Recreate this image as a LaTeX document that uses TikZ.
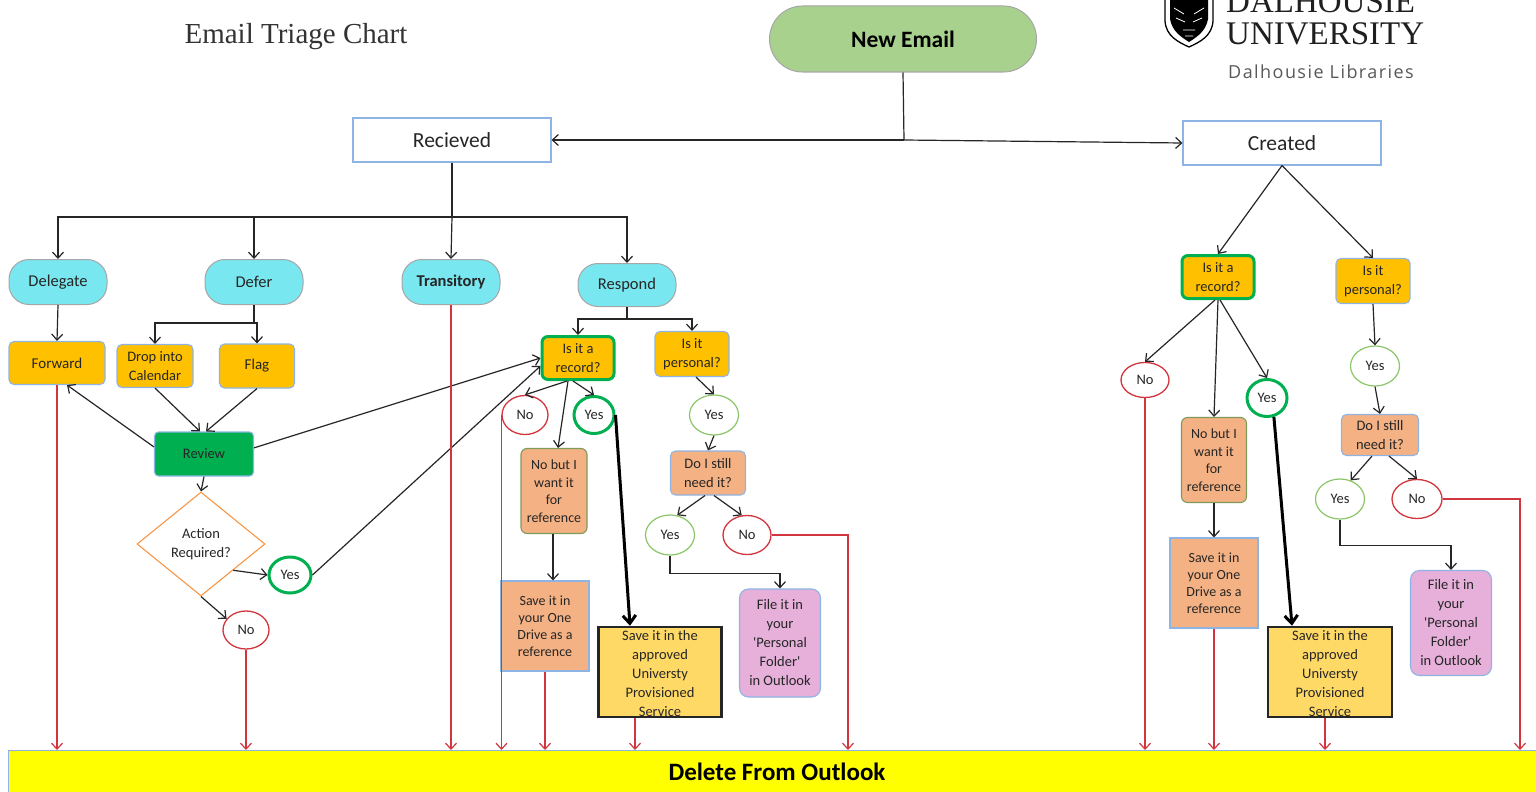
\documentclass[tikz,border=0pt]{standalone}
\usepackage{fontspec}
\setmainfont{Carlito}
\newfontfamily\titlefont{Liberation Serif}
\newfontfamily\logosans[LetterSpace=8]{Open Sans}
\usetikzlibrary{arrows.meta,shapes.geometric}
\definecolor{txt}{HTML}{262626}
\definecolor{lineC}{HTML}{262626}
\definecolor{redC}{HTML}{D2353D}
\definecolor{cyanF}{HTML}{79E7EF}
\definecolor{goldF}{HTML}{FFC000}
\definecolor{salmonF}{HTML}{F4B183}
\definecolor{paleF}{HTML}{FFD966}
\definecolor{pinkF}{HTML}{E6B0DA}
\definecolor{greenF}{HTML}{00B050}
\definecolor{newF}{HTML}{A9D18E}
\definecolor{blueB}{HTML}{8EB4E3}
\definecolor{grayB}{HTML}{A6A6A6}
\definecolor{lgreenB}{HTML}{8CC66A}
\definecolor{olivB}{HTML}{7F9A5A}
\definecolor{orangeB}{HTML}{F79646}
\definecolor{yellowF}{HTML}{FFFF00}
\newcommand\myfs[2]{\fontsize{#1}{#2}\selectfont}
\newcommand\sq{\textquotesingle}
\begin{document}
\begin{tikzpicture}[x=1pt,y=-1pt,
  every node/.style={text=txt, inner sep=0pt, align=center},
  base/.style={draw=blueB, line width=1.1pt},
  pill/.style={draw=grayB, line width=1pt, fill=cyanF, minimum width=98pt, minimum height=45pt, rounded corners=20pt, font=\myfs{16.5}{19}},
  gbox/.style={base, fill=goldF, rounded corners=5pt, font=\myfs{14.5}{19}},
  recbox/.style={draw=greenF, line width=3pt, fill=goldF, rounded corners=6pt, minimum width=72pt, minimum height=43pt, font=\myfs{14.5}{19}},
  perbox/.style={base, fill=goldF, rounded corners=5pt, minimum width=74pt, minimum height=45pt, font=\myfs{14.5}{19}},
  ylite/.style={ellipse, draw=lgreenB, line width=1.2pt, fill=white, minimum width=49pt, minimum height=40pt, font=\myfs{14.5}{17}},
  ythick/.style={ellipse, draw=greenF, line width=3pt, fill=white, minimum width=40pt, minimum height=37pt, font=\myfs{14.5}{17}},
  nell/.style={ellipse, draw=redC, line width=1.3pt, fill=white, minimum width=48pt, minimum height=39pt, font=\myfs{14.5}{17}},
  nbbox/.style={draw=olivB, line width=1.1pt, fill=salmonF, rounded corners=6pt, minimum width=66pt, minimum height=85pt, font=\myfs{14}{17.5}},
  odbox/.style={base, fill=salmonF, minimum width=88pt, minimum height=90pt, font=\myfs{14}{17}},
  dnbox/.style={base, fill=salmonF, rounded corners=5pt, minimum width=75pt, minimum height=44pt, font=\myfs{14.5}{19}},
  apbox/.style={draw=black!85, line width=2.5pt, fill=paleF, minimum width=123pt, minimum height=90pt},
  aptext/.style={font=\myfs{14.5}{19}},
  filebox/.style={base, fill=pinkF, rounded corners=9pt, minimum width=81pt, minimum height=108pt, font=\myfs{14.5}{19}},
  ln/.style={draw=lineC, line width=1.2pt},
  arr/.style={draw=lineC, line width=1.2pt, -{Straight Barb[length=6pt,width=11pt]}},
  redarr/.style={draw=redC, line width=1.2pt, -{Straight Barb[length=6pt,width=11pt]}},
  bigarr/.style={draw=black, line width=3pt, -{Straight Barb[length=8pt,width=13pt]}}
]
\useasboundingbox (0,0) rectangle (1536,792);
\fill[white] (0,0) rectangle (1536,792);

% title and logo
\node[font=\titlefont\myfs{29}{31}, text=black!80] (title) at (296,37) {Email Triage Chart};
\draw[line width=1.3pt, black] (1165,-2) -- (1165,21) .. controls (1166,36) and (1178,42) .. (1189,47) .. controls (1200,42) and (1212,36) .. (1213,21) -- (1213,-2);
\fill[black] (1170,-2) -- (1170,19) .. controls (1172,31) and (1181,37) .. (1189,42) .. controls (1197,37) and (1206,31) .. (1208,19) -- (1208,-2) -- cycle;
\draw[white, line width=0.8pt] (1174,8) -- (1184,14) (1204,8) -- (1194,14) (1176,18) -- (1185,22) (1202,18) -- (1193,22) (1183,30) -- (1195,30) (1185,36) -- (1193,36);
\node[font=\titlefont\myfs{33}{35}, text=black!88, anchor=base west] (dal) at (1226,13) {DALHOUSIE};
\node[font=\titlefont\myfs{33}{35}, text=black!88, anchor=base west] (uni) at (1226,45) {UNIVERSITY};
\node[font=\logosans\myfs{18}{20}, text=black!65, anchor=base west] (lib) at (1228,78) {Dalhousie Libraries};

% top level
\node[draw=grayB, line width=1pt, fill=newF, minimum width=267pt, minimum height=66pt, rounded corners=33pt, font=\bfseries\myfs{23.5}{26}, text=black] (new) at (903,39) {New Email};
\node[base, fill=white, minimum width=198pt, minimum height=44pt, font=\myfs{21.5}{24}] (rec) at (452,140) {Recieved};
\node[base, fill=white, minimum width=198pt, minimum height=44pt, font=\myfs{21.5}{24}] (cre) at (1282,143) {Created};
\coordinate (j1) at (904,140);
\draw[ln] (new.south) -- (j1);
\draw[arr] (j1) -- (rec.east);
\draw[arr] (j1) -- (cre.west);

% received branch
\node[pill] (deleg) at (58,282) {Delegate};
\node[pill] (defer) at (254,282) {Defer};
\node[pill, font=\bfseries\myfs{16.5}{19}] (trans) at (451,282) {Transitory};
\node[pill, minimum height=43pt] (resp) at (627,285) {Respond};
\coordinate (b1) at (452,217);
\draw[ln] (rec.south) -- (b1);
\draw[arr] (b1) -| (deleg.north);
\draw[arr] (b1) -| (defer.north);
\draw[arr] (b1) -- (trans.north);
\draw[arr] (b1) -| (resp.north);

\node[gbox, minimum width=96pt, minimum height=43pt, font=\myfs{15}{19}] (fwd) at (57,363) {Forward};
\node[gbox, minimum width=76pt, minimum height=43pt] (drop) at (155,366) {Drop into\\Calendar};
\node[gbox, minimum width=75pt, minimum height=44pt, font=\myfs{15}{19}] (flag) at (257,366) {Flag};
\draw[arr] (deleg.south) -- (fwd.north);
\coordinate (d1) at (254,323);
\draw[ln] (defer.south) -- (d1);
\draw[arr] (d1) -| (drop.north);
\draw[arr] (d1) -| (flag.north);

\node[base, fill=greenF, rounded corners=4pt, minimum width=99pt, minimum height=44pt, font=\myfs{14.5}{19}] (rev) at (204,454) {Review};
\draw[arr] (drop.south) -- ([xshift=-4pt]rev.north);
\draw[arr] (flag.south) -- ([xshift=2pt]rev.north);
\draw[arr] (rev.172) -- ([xshift=10pt]fwd.south);

\node[diamond, draw=orangeB, line width=1.1pt, fill=white, minimum width=128pt, minimum height=104pt, font=\myfs{14.5}{19}] (act) at (201,544) {Action\\Required?};
\draw[arr] (rev.south) -- (act.north);
\node[ythick, minimum width=42pt, minimum height=36pt] (yes1) at (290,575) {Yes};
\node[nell, minimum width=46pt, minimum height=38pt] (no1) at (246,630) {No};
\draw[arr] (act.south east) -- (yes1.west);
\draw[arr] (act.south) -- (no1.150);

% respond branch
\node[recbox] (rec1) at (578,358) {Is it a\\record?};
\node[perbox] (per1) at (692,354) {Is it\\personal?};
\coordinate (r1) at (627,319);
\draw[ln] (resp.south) -- (r1);
\draw[arr] (r1) -| (rec1.north);
\draw[arr] (r1) -| (per1.north);
\draw[arr] (rev.7) -- (rec1.180);
\draw[arr] (yes1.east) -- (rec1.192);

\node[nell, minimum width=46pt] (no2) at (525,415) {No};
\node[ythick] (yes2) at (594,415) {Yes};
\node[nbbox] (nb1) at (554,491) {No but I\\want it\\for\\reference};
\draw[arr] ([xshift=-11pt]rec1.south) -- (no2.north);
\draw[arr] ([xshift=-5pt]rec1.south) -- (yes2.north);
\draw[arr] ([xshift=-10pt]rec1.south) -- ([xshift=4pt]nb1.north);

\node[odbox] (od1) at (545,626) {Save it in\\your One\\Drive as a\\reference};
\draw[arr] ([xshift=-1pt]nb1.south) -- ([xshift=-1pt]nb1.south |- od1.north);
\node[apbox] (ap1) at (660,672) {};
\node[aptext] (ap1t) at (660,674) {Save it in the\\approved\\Universty\\Provisioned\\Service};
\draw[bigarr] (yes2.east) -- ([xshift=-30pt]ap1.north);

\node[ylite] (yes3) at (714,415) {Yes};
\node[dnbox] (dn1) at (708,473) {Do I still\\need it?};
\node[ylite] (yes4) at (670,535) {Yes};
\node[nell] (no4) at (747,535) {No};
\node[filebox] (file1) at (780,643) {File it in\\your\\\sq Personal\\Folder\sq\\in Outlook};
\draw[arr] ([xshift=4pt]per1.south) -- (yes3.north);
\draw[arr] (yes3.south) -- (dn1.north);
\draw[arr] ([xshift=-3pt]dn1.south) -- (yes4.70);
\draw[arr] ([xshift=6pt]dn1.south) -- (no4.105);
\draw[arr] (yes4.south) -- ++(0,18) -| (file1.north);

% created branch
\node[recbox] (rec2) at (1218,277) {Is it a\\record?};
\node[perbox] (per2) at (1373,281) {Is it\\personal?};
\draw[arr] (cre.south) -- (rec2.north);
\draw[arr] (cre.south) -- (per2.north);
\node[nell, minimum height=35pt] (no5) at (1145,380) {No};
\node[nbbox, minimum width=65pt] (nb2) at (1214,460) {No but I\\want it\\for\\reference};
\node[ythick] (yes5) at (1267,398) {Yes};
\draw[arr] ([xshift=-3pt]rec2.south) -- (no5.north);
\draw[arr] (rec2.south) -- (nb2.north);
\draw[arr] ([xshift=2pt]rec2.south) -- (yes5.north);
\node[odbox] (od2) at (1214,583) {Save it in\\your One\\Drive as a\\reference};
\draw[arr] (nb2.south) -- (od2.north);
\node[apbox, minimum width=124pt] (ap2) at (1330,672) {};
\node[aptext] (ap2t) at (1330,674) {Save it in the\\approved\\Universty\\Provisioned\\Service};
\draw[bigarr] (yes5.-70) -- ([xshift=-38pt]ap2.north);

\node[ylite] (yes6) at (1375,366) {Yes};
\node[dnbox, minimum width=77pt, minimum height=41pt] (dn2) at (1380,435) {Do I still\\need it?};
\node[ylite] (yes7) at (1340,499) {Yes};
\node[nell, minimum width=50pt] (no7) at (1417,499) {No};
\node[filebox, minimum height=105pt] (file2) at (1451,623) {File it in\\your\\\sq Personal\\Folder\sq\\in Outlook};
\draw[arr] (per2.south) -- (yes6.north);
\draw[arr] (yes6.south) -- (dn2.north);
\draw[arr] ([xshift=-8pt]dn2.south) -- (yes7.60);
\draw[arr] ([xshift=9pt]dn2.south) -- (no7.north);
\draw[arr] (yes7.south) -- ++(0,26) -| (file2.north);

% delete bar
\node[draw=blueB, line width=1.1pt, fill=yellowF, minimum width=1545pt, minimum height=46pt, anchor=north west] (del) at (8,750) {};
\node[font=\bfseries\myfs{25}{28}, text=black] (delt) at (777,772) {Delete From Outlook};

% red connectors to delete
\draw[redarr] (fwd.south) -- (fwd.south |- del.north);
\draw[redarr] (trans.south) -- (trans.south |- del.north);
\draw[redarr] (no1.south) -- (no1.south |- del.north);
\coordinate (n2l) at (501.5,415);
\draw[redarr] (n2l) -- (n2l |- del.north);
\draw[redarr] (od1.south) -- (od1.south |- del.north);
\draw[redarr] ([xshift=-25pt]ap1.south) -- ([xshift=-25pt]ap1.south |- del.north);
\coordinate (c1) at (848,535);
\draw[redarr] (no4.east) -- (c1) -- (c1 |- del.north);
\draw[redarr] (no5.south) -- (no5.south |- del.north);
\draw[redarr] (od2.south) -- (od2.south |- del.north);
\draw[redarr] ([xshift=-5pt]ap2.south) -- ([xshift=-5pt]ap2.south |- del.north);
\coordinate (c2) at (1520,499);
\draw[redarr] (no7.east) -- (c2) -- (c2 |- del.north);
\end{tikzpicture}
\end{document}
